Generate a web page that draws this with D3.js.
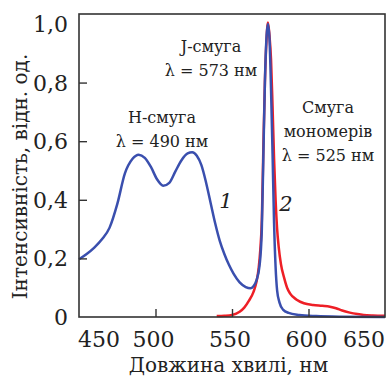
<!DOCTYPE html>
<html>
<head>
<meta charset="utf-8">
<script src="https://cdn.jsdelivr.net/npm/d3@7"></script>
<style>
  body { margin: 0; background: #fff; }
  svg { display: block; }
</style>
</head>
<body>
<svg id="chart" width="389" height="378"></svg>
<script>
// ---- data ----
const xTicks = [500, 550, 600];
const xTickLabels = [450, 500, 550, 600, 650];
const yTicks = [0, 0.2, 0.4, 0.6, 0.8, 1.0];
const yTickLabels = ["0", "0,2", "0,4", "0,6", "0,8", "1,0"];

// curve 1 (blue): [wavelength nm, intensity]
const curve1 = [
  [450, 0.197], [455, 0.215], [460, 0.237], [465, 0.265], [470, 0.305],
  [475, 0.385], [480, 0.490], [485, 0.540], [489, 0.554], [493, 0.543],
  [497, 0.512], [501, 0.470], [505, 0.448], [509, 0.458], [513, 0.497],
  [517, 0.535], [521, 0.558], [524, 0.562], [527, 0.550], [530, 0.518],
  [533, 0.460], [536, 0.390], [539, 0.320], [542, 0.260], [545, 0.215],
  [548, 0.178], [551, 0.148], [555, 0.118], [559, 0.102], [562, 0.098],
  [564, 0.105], [566, 0.125], [568, 0.175], [569.5, 0.30], [570.5, 0.55],
  [571.5, 0.80], [572.5, 0.95], [573.5, 1.0], [574.5, 0.95], [575.5, 0.78],
  [576.5, 0.56], [577.5, 0.32], [578.5, 0.17], [579.5, 0.09], [581, 0.05],
  [583.5, 0.024], [587, 0.014], [594, 0.007], [605, 0.003], [620, 0.001],
  [650, 0.0]
];

// curve 2 (red)
const curve2 = [
  [540, 0.003], [545, 0.004], [550, 0.007], [555, 0.018], [558, 0.032],
  [561, 0.055], [564, 0.085], [566, 0.12], [567.5, 0.17], [568.5, 0.23],
  [569.5, 0.33], [570.5, 0.58], [571.5, 0.80], [572.5, 0.94], [573.5, 1.005],
  [574.5, 0.96], [575.5, 0.88], [576.5, 0.72], [577.5, 0.54], [578.5, 0.40],
  [579.5, 0.30], [580.5, 0.24], [582, 0.18], [584, 0.135], [586, 0.10],
  [588, 0.08], [592, 0.06], [597, 0.047], [603, 0.041], [609, 0.038],
  [614, 0.035], [618, 0.030], [622, 0.022], [627, 0.015], [632, 0.010],
  [636, 0.007], [642, 0.005], [650, 0.004]
];

const annotations = [
  ["J-смуга", "λ = 573 нм"],
  ["Н-смуга", "λ = 490 нм"],
  ["Смуга", "мономерів", "λ = 525 нм"]
];
const curveLabels = ["1", "2"];
const xTitle = "Довжина хвилі, нм";
const yTitle = "Інтенсивність, відн. од.";

// ---- layout ----
const FONT = '"DejaVu Serif", "Liberation Serif", "Noto Serif", serif';
const margin = { left: 79, top: 14, right: 4, bottom: 61 };
const W = 389, H = 378;
const svg = d3.select("#chart").style("font-family", FONT);
svg.append("rect").attr("width", W).attr("height", H).attr("fill", "#fff");

const x = d3.scaleLinear().domain([450, 650]).range([margin.left, W - margin.right]);
const y = d3.scaleLinear().domain([0, 1.034]).range([H - margin.bottom, margin.top]);

// curves
const line = d3.line().x(d => x(d[0])).y(d => y(d[1])).curve(d3.curveMonotoneX);
const plot = svg.append("g");
plot.append("path").datum(curve2).attr("d", line)
  .attr("fill", "none").attr("stroke", "#ee1f26").attr("stroke-width", 2.5)
  .attr("stroke-linejoin", "round");
plot.append("path").datum(curve1).attr("d", line)
  .attr("fill", "none").attr("stroke", "#3a4fae").attr("stroke-width", 2.5)
  .attr("stroke-linejoin", "round");

// frame
svg.append("rect")
  .attr("x", x(450)).attr("y", y(1.034))
  .attr("width", x(650) - x(450)).attr("height", y(0) - y(1.034))
  .attr("fill", "none").attr("stroke", "#333").attr("stroke-width", 1.6);

// inward ticks
const xAxis = d3.axisBottom(x).tickValues(xTicks).tickSize(-8).tickFormat("");
svg.append("g").attr("transform", `translate(0,${y(0)})`).call(xAxis)
  .call(g => g.select(".domain").remove())
  .call(g => g.selectAll("line").attr("stroke", "#333").attr("stroke-width", 1.4));
const yAxis = d3.axisLeft(y).tickValues([0.2, 0.4, 0.6, 0.8]).tickSize(-8).tickFormat("");
svg.append("g").attr("transform", `translate(${x(450)},0)`).call(yAxis)
  .call(g => g.select(".domain").remove())
  .call(g => g.selectAll("line").attr("stroke", "#333").attr("stroke-width", 1.4));

const txt = sel => sel.attr("font-family", FONT).attr("fill", "#222");

// tick labels
svg.append("g").selectAll("text").data(xTickLabels).join("text").call(txt)
  .attr("x", d => d === 450 ? x(d) - 1 : d === 650 ? x(d) : x(d) - 2)
  .attr("y", 347)
  .attr("text-anchor", d => d === 450 ? "start" : d === 650 ? "end" : "middle")
  .attr("font-size", 22)
  .text(d => d);
svg.append("g").selectAll("text").data(yTicks).join("text").call(txt)
  .attr("x", 68).attr("y", d => y(d) + 8)
  .attr("text-anchor", "end")
  .attr("font-size", 22)
  .text((d, i) => yTickLabels[i]);

// axis titles
svg.append("text").call(txt).attr("x", 228.5).attr("y", 372).attr("text-anchor", "middle")
  .attr("font-size", 20).text(xTitle);
svg.append("text").call(txt).attr("transform", `translate(27,176.5) rotate(-90)`)
  .attr("text-anchor", "middle").attr("font-size", 20).text(yTitle);

// annotations
const annPos = [ {cx: 211, y0: 52}, {cx: 162, y0: 123}, {cx: 328, y0: 113} ];
annotations.forEach((lines, i) => {
  const t = svg.append("text").call(txt).attr("text-anchor", "middle").attr("font-size", 16);
  lines.forEach((ln, j) => {
    t.append("tspan").attr("x", annPos[i].cx).attr("y", annPos[i].y0 + j * 24).text(ln);
  });
});
svg.append("g").selectAll("text").data(curveLabels).join("text").call(txt)
  .attr("x", (d, i) => [226, 286][i]).attr("y", (d, i) => [208, 211][i])
  .attr("text-anchor", "middle").attr("font-size", 21).attr("font-style", "italic")
  .text(d => d);
</script>
</body>
</html>
